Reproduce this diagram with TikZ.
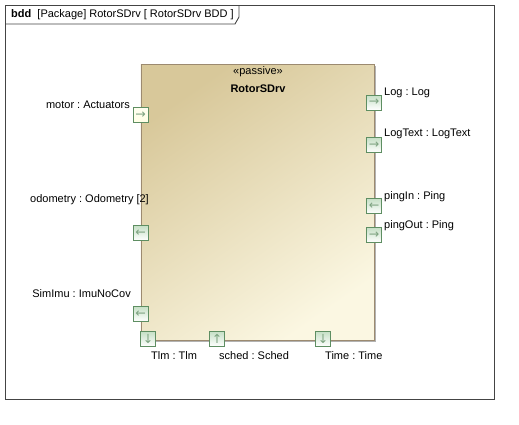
\documentclass[tikz,border=0pt]{standalone}
\usepackage{fontspec}
\setmainfont{Liberation Sans}
\newfontfamily\arrowfont{DejaVu Sans}
\usetikzlibrary{shadows}

\definecolor{framegray}{HTML}{444444}
\definecolor{blockline}{HTML}{9C8A70}
\definecolor{blocktan}{HTML}{D8C89A}
\definecolor{blockcream}{HTML}{FBF7E2}
\definecolor{portline}{HTML}{5E8E62}
\definecolor{portgreen}{HTML}{C6E0C6}

\tikzstyle{block} = [ draw=blockline,top color=blocktan,bottom color=blockcream,
                      shading angle=35,minimum width=233pt,minimum height=276pt,
                      drop shadow={shadow xshift=2pt,shadow yshift=-2pt,fill=gray!60,opacity=1}]
\tikzstyle{port}  = [ draw=portline,top color=portgreen,bottom color=white,
                      minimum size=15pt,inner sep=0pt,text=portline!80,
                      font=\arrowfont\fontsize{12.5}{12.5}\selectfont]
\tikzstyle{lbl}   = [ inner sep=0pt,font=\fontsize{11}{13}\selectfont]

\begin{document}
\frenchspacing
\begin{tikzpicture}[x=1pt,y=-1pt]
  \useasboundingbox (0,0) rectangle (519,424);

  % frame with tab
  \draw[framegray,line width=0.9pt] (5.5,5) rectangle (494.5,399);
  \draw[framegray,line width=0.9pt] (5.5,24) -- (235,24) -- (239,17) -- (239,5);
  \node[lbl,anchor=west] (title) at (11,14.5) {\textbf{bdd}\ \ [Package]\ RotorSDrv [ RotorSDrv BDD ]};

  % block
  \node[block] (drv) at (257.3,202) {};
  \node[lbl] (stereo) at (258,72) {«passive»};
  \node[lbl,font=\bfseries\fontsize{11}{13}\selectfont] (name) at (258,89) {RotorSDrv};

  % ports left
  \node[port,top color=yellow!6,bottom color=yellow!10] at (140.7,115) (motor) {→};
  \node[port] at (140.7,233) (odo)   {←};
  \node[port] at (140.7,314) (imu)   {←};
  % ports right
  \node[port] at (374,102.5) (log)   {→};
  \node[port] at (374,145) (logtxt)  {→};
  \node[port] at (374,206) (pin)     {←};
  \node[port] at (374,235) (pout)    {→};
  % ports bottom
  \node[port] at (148,339) (tlm)     {↓};
  \node[port] at (217,339) (sched)   {↑};
  \node[port] at (323,339) (time)    {↓};

  % labels
  \node[lbl,anchor=east] at (130,105) (motorL)  {motor : Actuators};
  \node[lbl,anchor=east] at (149,200) (odoL)    {odometry : Odometry [2]};
  \node[lbl,anchor=east] at (131,294) (imuL)    {SimImu : ImuNoCov};
  \node[lbl,anchor=west] at (384,93)  (logL)    {Log : Log};
  \node[lbl,anchor=west] at (384,134) (logtxtL) {LogText : LogText};
  \node[lbl,anchor=west] at (384,197) (pinL)    {pingIn : Ping};
  \node[lbl,anchor=west] at (384,226) (poutL)   {pingOut : Ping};
  \node[lbl,anchor=west] at (151,356) (tlmL)    {Tlm : Tlm};
  \node[lbl,anchor=west] at (219,356) (schedL)  {sched : Sched};
  \node[lbl,anchor=west] at (325,356) (timeL)   {Time : Time};
\end{tikzpicture}
\end{document}
